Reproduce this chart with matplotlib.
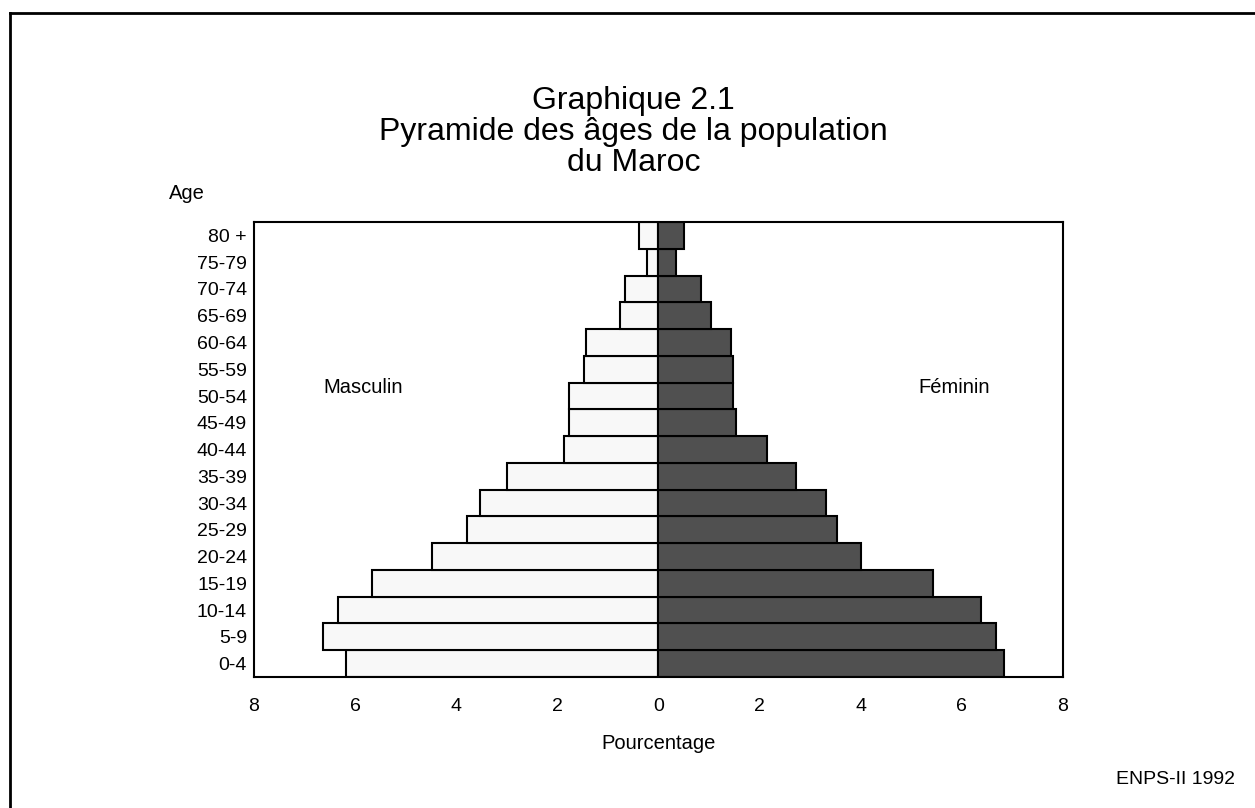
import matplotlib
matplotlib.use("Agg")
import matplotlib.pyplot as plt
import numpy as np

plt.rcParams['font.family'] = ['Liberation Sans', 'DejaVu Sans']

# Age groups, from youngest to oldest
ages = ["0-4", "5-9", "10-14", "15-19", "20-24", "25-29", "30-34", "35-39",
        "40-44", "45-49", "50-54", "55-59", "60-64", "65-69", "70-74",
        "75-79", "80 +"]

# Percentages
masculin = [6.19, 6.64, 6.34, 5.66, 4.48, 3.78, 3.53, 2.99,
            1.87, 1.78, 1.78, 1.48, 1.43, 0.77, 0.67, 0.22, 0.38]
feminin = [6.83, 6.68, 6.37, 5.43, 4.01, 3.53, 3.32, 2.72,
           2.14, 1.54, 1.48, 1.48, 1.44, 1.04, 0.84, 0.34, 0.50]

x_ticks = [-8, -6, -4, -2, 0, 2, 4, 6, 8]
x_tick_labels = ["8", "6", "4", "2", "0", "2", "4", "6", "8"]

title_lines = ["Graphique 2.1", "Pyramide des âges de la population", "du Maroc"]

fig = plt.figure(figsize=(12.55, 8.08), dpi=100)
ax = fig.add_axes([0.2024, 0.1621, 0.6446, 0.5631])

y = np.arange(len(ages))

# Male bars to the left, female bars to the right
ax.barh(y, [-v for v in masculin], height=1.0, color="#f8f8f8",
        edgecolor="black", linewidth=1.5)
ax.barh(y, feminin, height=1.0, color="#505050",
        edgecolor="black", linewidth=1.5)

ax.set_xlim(-8, 8)
ax.set_ylim(-0.5, len(ages) - 0.5)
ax.set_xticks(x_ticks)
ax.set_xticklabels(x_tick_labels)
ax.set_yticks(y)
ax.set_yticklabels(ages)
ax.tick_params(length=0, labelsize=14, pad=5)
ax.tick_params(axis="x", pad=15)
for s in ax.spines.values():
    s.set_linewidth(1.5)

ax.text(0.135, 0.637, "Masculin", transform=ax.transAxes,
        ha="center", va="center", fontsize=14.5)
ax.text(0.865, 0.637, "Féminin", transform=ax.transAxes,
        ha="center", va="center", fontsize=14.5)

ax.set_xlabel("Pourcentage", fontsize=14.5, labelpad=14)

# Title, one line at a time (baselines at 109, 140, 171 px)
for i, line in enumerate(title_lines):
    fig.text(0.505, 1 - (109 + 31 * i) / 808, line, ha="center",
             va="baseline", fontsize=23)

fig.text(0.1346, 0.761, "Age", ha="left", va="center", fontsize=14.5)
fig.text(0.984, 0.035, "ENPS-II 1992", ha="right", va="center", fontsize=14)

# Page frame: top and left lines
fig.add_artist(plt.Line2D([0.008, 1.0], [0.984, 0.984], color="black",
                          linewidth=2, transform=fig.transFigure))
fig.add_artist(plt.Line2D([0.008, 0.008], [0.0, 0.984], color="black",
                          linewidth=2, transform=fig.transFigure))

plt.savefig("out.png", dpi=100)
